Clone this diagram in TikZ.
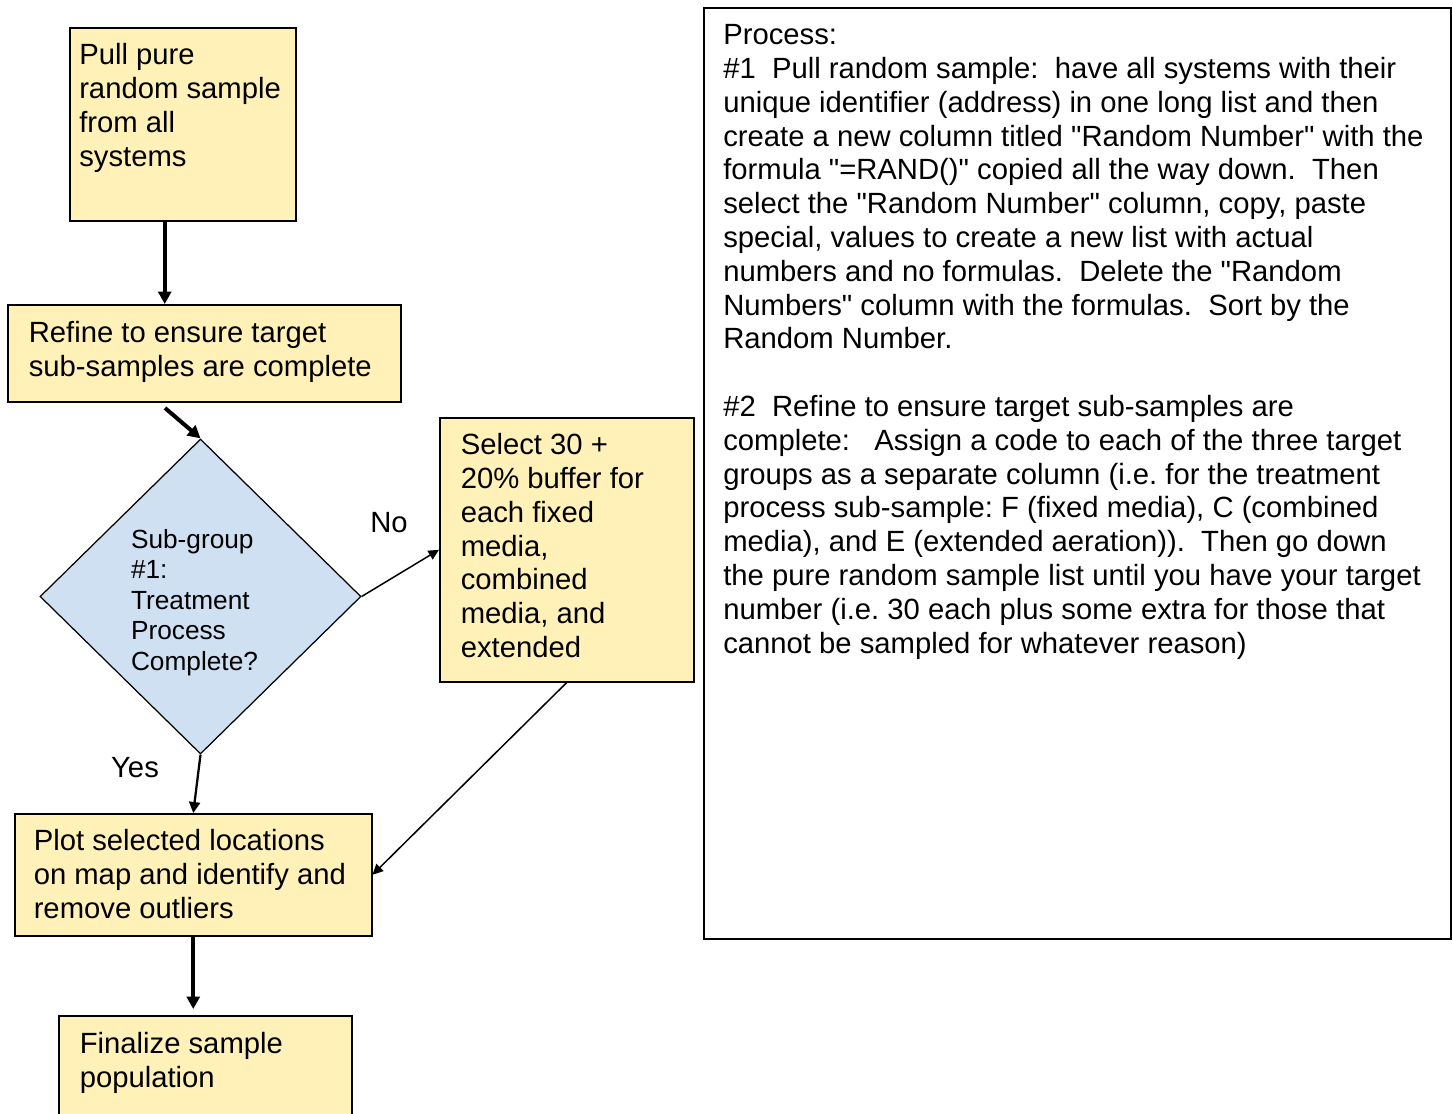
\documentclass[tikz,border=0pt]{standalone}
\usepackage{fontspec}
\newfontfamily\arialfont{Liberation Sans}
\usetikzlibrary{shapes.geometric, arrows.meta}
\definecolor{boxyellow}{HTML}{FFF1B8}
\definecolor{diamondblue}{HTML}{CFE0F2}
\frenchspacing

\begin{document}
\begin{tikzpicture}[x=0.4pt, y=-0.4pt,
    every node/.style={font=\arialfont\fontsize{11.7}{13.52}\selectfont},
    box_style/.style={draw, line width=0.6pt, fill=boxyellow, anchor=north west,
      align=flush left, inner xsep=8.4pt, text height=9pt},
    diamond_style/.style={diamond, draw, line width=0.5pt, fill=diamondblue,
      inner sep=0pt, minimum width=128.4pt, minimum height=126pt, align=left,
      font=\arialfont\fontsize{10.5}{12.2}\selectfont},
    thick_arrow/.style={-{Triangle[length=5pt, width=5.2pt]}, line width=1.6pt},
    mid_arrow/.style={-{Triangle[length=4.4pt, width=4.4pt]}, line width=0.9pt},
    thin_arrow/.style={-{Triangle[length=4.2pt, width=4pt]}, line width=0.6pt}]

  \useasboundingbox (0,0) rectangle (1452,1113);

  % flow chart
  \node[box_style, inner xsep=3.8pt, inner ysep=5.8pt, text width=82.8pt, text depth=56.6pt] (pull) at (69,27)
    {Pull pure\\random sample\\from all\\systems};
  \node[box_style, inner ysep=6.2pt, text width=140.4pt, text depth=17.4pt] (refine) at (7,304)
    {Refine to ensure target\\sub-samples are complete};
  \node[diamond_style] (check) at (200.5,596.5)
    {\rule{0pt}{12.5pt}Sub-group\\\#1:\\Treatment\\Process\\Complete?\kern4.8pt};
  \node[box_style, inner ysep=5.8pt, text width=84.8pt, text depth=85pt] (select) at (439,417)
    {Select 30 +\\20\% buffer for\\each fixed\\media,\\combined\\media, and\\extended};
  \node[box_style, inner xsep=7.6pt, inner ysep=5.8pt, text width=127.6pt, text depth=28.2pt] (plot) at (14,813)
    {Plot selected locations\\on map and identify and\\remove outliers};
  \node[box_style, inner ysep=6.2pt, text width=100.4pt, text depth=26.6pt] (final) at (58,1015)
    {Finalize sample\\population};

  \node (no_label) at (389,523) {No};
  \node (yes_label) at (135,768) {Yes};

  \coordinate (refine_out) at (165,408);

  \draw[thick_arrow] ([xshift=-7.2pt]pull.south) -- ([xshift=-7.2pt]pull.south |- refine.north);
  \draw[thick_arrow] (refine_out) -- (check.north);
  \draw[thin_arrow] (check.east) -- (select.west);
  \draw[mid_arrow] (check.south) -- (plot.north);
  \draw[thin_arrow] (select.south) -- (plot.east);
  \draw[thick_arrow, shorten >=2.4pt] (plot.south) -- (plot.south |- final.north);

  % process notes
  \node[box_style, fill=white, inner xsep=7.8pt, inner ysep=5.8pt, text width=283.2pt, text depth=351.8pt] (notes) at (703,7)
    {Process:\\
     \#1\ \ Pull random sample:\ \ have all systems with their\\
     unique identifier (address) in one long list and then\\
     create a new column titled "Random Number" with the\\
     formula "=RAND()" copied all the way down.\ \ Then\\
     select the "Random Number" column, copy, paste\\
     special, values to create a new list with actual\\
     numbers and no formulas.\ \ Delete the "Random\\
     Numbers" column with the formulas.\ \ Sort by the\\
     Random Number.\\[13.52pt]
     \#2\ \ Refine to ensure target sub-samples are\\
     complete:\ \ \ Assign a code to each of the three target\\
     groups as a separate column (i.e. for the treatment\\
     process sub-sample: F (fixed media), C (combined\\
     media), and E (extended aeration)).\ \ Then go down\\
     the pure random sample list until you have your target\\
     number (i.e. 30 each plus some extra for those that\\
     cannot be sampled for whatever reason)};
\end{tikzpicture}
\end{document}
